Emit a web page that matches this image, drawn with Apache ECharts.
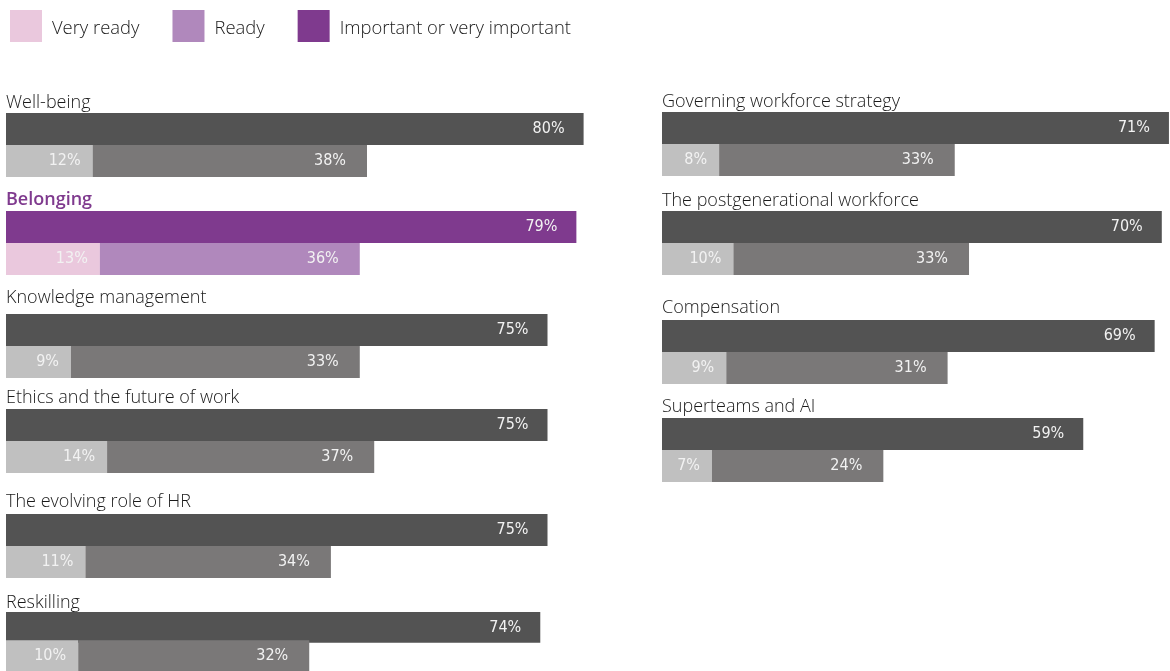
<!DOCTYPE html>
<html>
<head>
<meta charset="utf-8">
<script src="https://cdn.jsdelivr.net/npm/echarts@6/dist/echarts.min.js"></script>
<style>
  html, body { margin: 0; padding: 0; background: #fff; }
  #main { width: 1170px; height: 671px; }
</style>
</head>
<body>
<div id="main"></div>
<script>
// topics, left column then right column
var leftTopics = ['Well-being', 'Belonging', 'Knowledge management', 'Ethics and the future of work', 'The evolving role of HR', 'Reskilling'];
var leftImportant = [80, 79, 75, 75, 75, 74];
var leftVeryReady = [12, 13, 9, 14, 11, 10];
var leftReady = [38, 36, 33, 37, 34, 32];
// the source draws the knowledge-management "ready" bar longer than its 33% label
var leftReadyBar = [38, 36, 40, 37, 34, 32];

var rightTopics = ['Governing workforce strategy', 'The postgenerational workforce', 'Compensation', 'Superteams and AI'];
var rightImportant = [71, 70, 69, 59];
var rightVeryReady = [8, 10, 9, 7];
var rightReady = [33, 33, 31, 24];
var rightReadyBar = [33, 33, 31, 24];

var highlight = 'Belonging';
var seriesNames = ['Very ready', 'Ready', 'Important or very important'];

// layout
var leftTops = [113, 211, 314, 409, 514, 612];
var leftBaselines = [108, 205, 303, 403, 507, 608];
var rightTops = [112, 211, 320, 418];
var rightBaselines = [107, 206, 313, 412];
var greys = { imp: '#535353', very: '#c0c0c0', ready: '#7a7878' };
var purples = { imp: '#7f3a8e', very: '#eac8dd', ready: '#b088bc' };

var titleFont = "'Open Sans', sans-serif";

var grids = [], xAxes = [], yAxes = [], series = [], titles = [];

function lbl(dist, texts) {
  return {
    show: true,
    position: 'insideRight',
    distance: dist,
    color: '#f2f2f2',
    fontFamily: 'DejaVu Sans',
    fontStyle: 'condensed',
    fontSize: 16,
    formatter: function (p) {
      return (texts ? texts[p.dataIndex] : p.value) + '%';
    }
  };
}

function addColumn(topics, imp, very, ready, readyBar, tops, bases, left, width, max) {
  topics.forEach(function (t, i) {
    var gi = grids.length;
    var c = t === highlight ? purples : greys;
    grids.push({ left: left, top: tops[i], width: width, height: 64 });
    xAxes.push({ gridIndex: gi, type: 'value', min: 0, max: max, show: false });
    yAxes.push({ gridIndex: gi, type: 'category', inverse: true, data: ['imp', 'ready'], show: false });
    titles.push({
      text: t, left: left, top: bases[i] - 14.5, padding: 0,
      textStyle: {
        fontFamily: titleFont, fontSize: 18,
        fontWeight: t === highlight ? 600 : 300,
        color: t === highlight ? '#7f3a8e' : '#1a1a1a'
      }
    });
    var common = { type: 'bar', xAxisIndex: gi, yAxisIndex: gi, stack: 's' + gi, barWidth: 32, silent: true };
    var readyTexts = ['-', ready[i]];
    series.push(Object.assign({}, common, {
      name: seriesNames[2], itemStyle: { color: c.imp }, label: lbl(19), data: [imp[i], '-']
    }));
    series.push(Object.assign({}, common, {
      name: seriesNames[0], itemStyle: { color: c.very }, label: lbl(12), data: ['-', very[i]]
    }));
    series.push(Object.assign({}, common, {
      name: seriesNames[1], itemStyle: { color: c.ready }, label: lbl(21, readyTexts), data: ['-', readyBar[i]]
    }));
  });
}

// left: 7.22px per point, right: 7.14px per point (right grid ends at the page edge)
addColumn(leftTopics, leftImportant, leftVeryReady, leftReady, leftReadyBar, leftTops, leftBaselines, 6, 722, 100);
addColumn(rightTopics, rightImportant, rightVeryReady, rightReady, rightReadyBar, rightTops, rightBaselines, 662, 508, 508 / 7.14);

var chart = echarts.init(document.getElementById('main'));
chart.setOption({
  animation: false,
  title: titles,
  legend: {
    left: 10, top: 10, padding: 0,
    itemWidth: 32, itemHeight: 32, itemGap: 33,
    icon: 'rect',
    selectedMode: false,
    formatter: '{t|{name}}',
    textStyle: {
      padding: [0, 0, 0, 5],
      rich: {
        t: { fontFamily: titleFont, fontSize: 18.4, fontWeight: 300, color: '#1a1a1a', padding: [6, 0, 0, 0] }
      }
    },
    data: [
      { name: seriesNames[0], itemStyle: { color: purples.very } },
      { name: seriesNames[1], itemStyle: { color: purples.ready } },
      { name: seriesNames[2], itemStyle: { color: purples.imp } }
    ]
  },
  grid: grids,
  xAxis: xAxes,
  yAxis: yAxes,
  series: series
});
</script>
</body>
</html>
